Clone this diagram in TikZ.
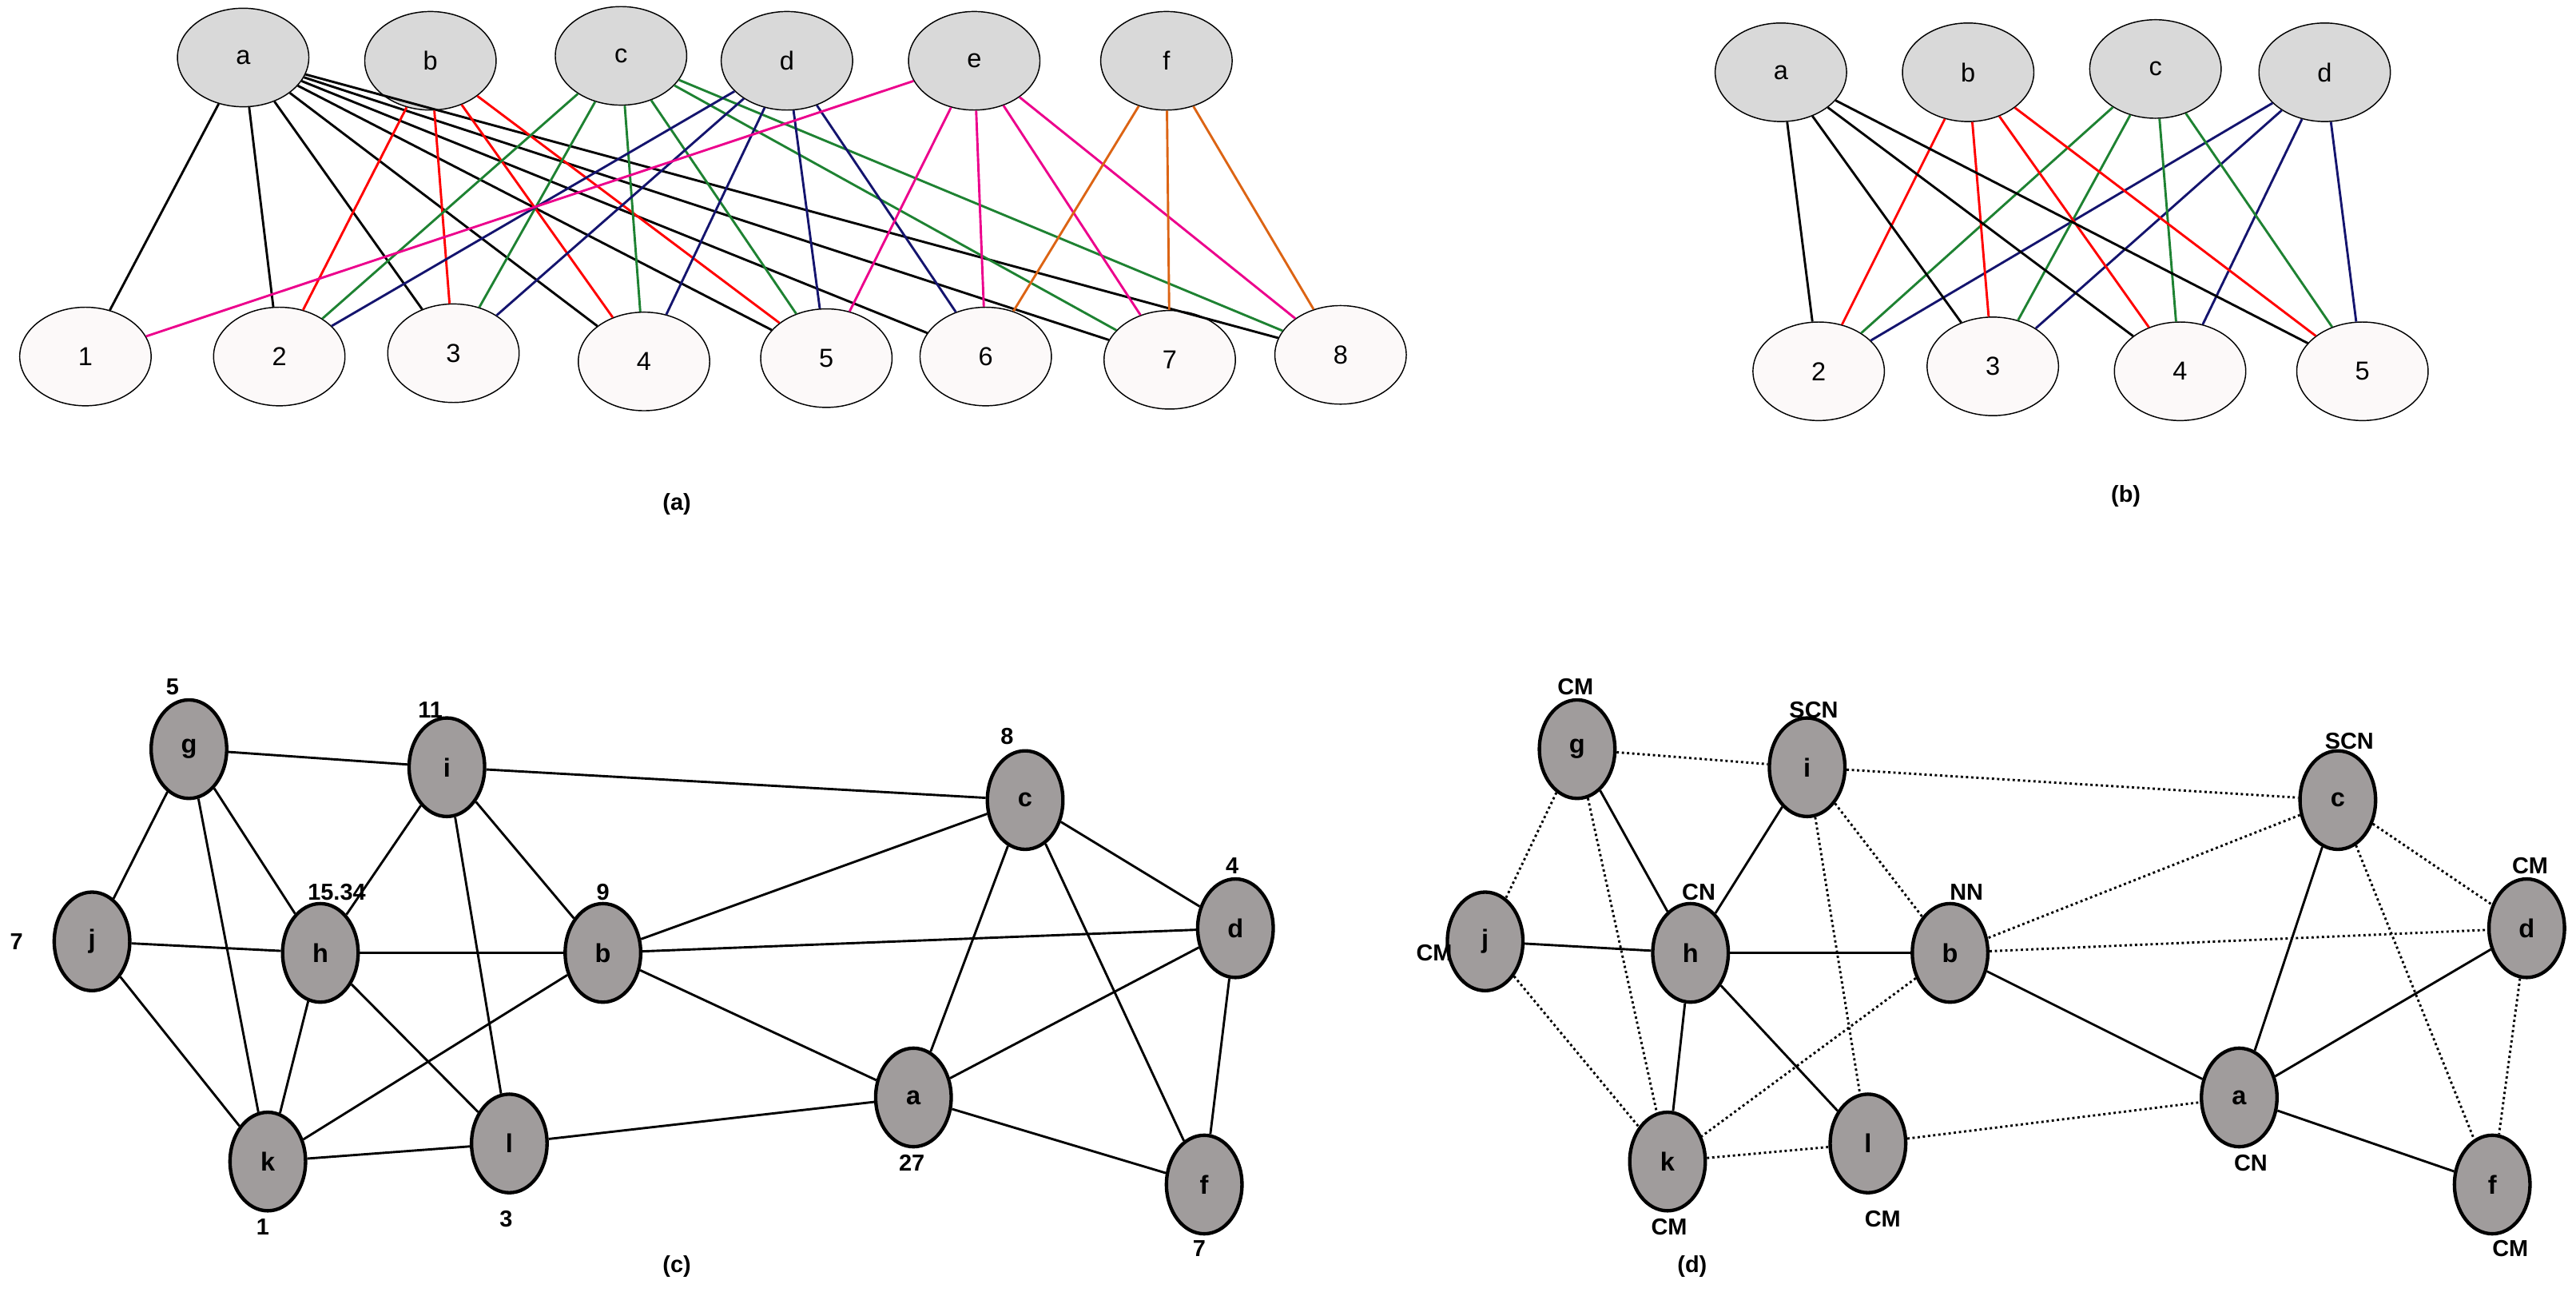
\documentclass[tikz,border=0pt]{standalone}
\usepackage{fontspec}
\setmainfont{Liberation Sans}
\usetikzlibrary{shapes.geometric}
\definecolor{topgray}{RGB}{217,217,217}
\definecolor{botwhite}{RGB}{252,249,249}
\definecolor{nodegray}{RGB}{160,156,156}
\definecolor{navyline}{RGB}{20,20,110}
\definecolor{greenline}{RGB}{30,130,50}
\definecolor{orangeline}{RGB}{220,100,20}
\tikzset{
  top/.style={ellipse, draw, thin, fill=topgray, minimum width=1.6cm, minimum height=1.2cm, font=\fontsize{9}{9}\selectfont},
  bot/.style={ellipse, draw, thin, fill=botwhite, minimum width=1.6cm, minimum height=1.2cm, font=\fontsize{9}{9}\selectfont},
  vtx/.style={ellipse, draw, line width=1.2pt, fill=nodegray, minimum width=0.92cm, minimum height=1.2cm, font=\bfseries\fontsize{9}{9}\selectfont},
  tag/.style={font=\bfseries\fontsize{8}{8}\selectfont},
  sublabel/.style={font=\bfseries\fontsize{8}{8}\selectfont},
  weak edge/.style={densely dotted, thick},
  solid edge/.style={thick}
}
\begin{document}
\begin{tikzpicture}[x=0.02cm, y=-0.02cm]
  \useasboundingbox (0,0) rectangle (1568,791);

  % (a)
  \foreach \n/\x/\y in {a/148/35, b/262/37, c/378/34, d/479/37, e/593/37, f/710/37}
    \node [top] (A\n) at (\x,\y) {\n};
  \foreach \n/\x/\y in {1/52/217, 2/170/217, 3/276/215, 4/392/220, 5/503/218, 6/600/217, 7/712/219, 8/816/216}
    \node [bot] (A\n) at (\x,\y) {\n};
  \foreach \m in {1,...,8} \draw [thick] (Aa) -- (A\m);
  \foreach \m in {2,3,4,5} \draw [red, thick] (Ab) -- (A\m);
  \foreach \m in {2,3,4,5,7,8} \draw [greenline, thick] (Ac) -- (A\m);
  \foreach \m in {2,3,4,5,6} \draw [navyline, thick] (Ad) -- (A\m);
  \foreach \m in {1,5,6,7,8} \draw [magenta, thick] (Ae) -- (A\m);
  \foreach \m in {6,7,8} \draw [orangeline, thick] (Af) -- (A\m);
  \node [sublabel] (capa) at (412,307) {(a)};

  % (b)
  \foreach \n/\x/\y in {a/1084/44, b/1198/44, c/1312/42, d/1415/44}
    \node [top] (B\n) at (\x,\y) {\n};
  \foreach \n/\x/\y in {2/1107/226, 3/1213/223, 4/1327/226, 5/1438/226}
    \node [bot] (B\n) at (\x,\y) {\n};
  \foreach \m in {2,3,4,5} {
    \draw [thick] (Ba) -- (B\m);
    \draw [red, thick] (Bb) -- (B\m);
    \draw [greenline, thick] (Bc) -- (B\m);
    \draw [navyline, thick] (Bd) -- (B\m);
  }
  \node [sublabel] (capb) at (1294,302) {(b)};

  % (c)
  \foreach \n/\x/\y in {g/115/456, i/272/467, c/624/487, d/752/565, j/56/573, h/195/580, b/367/580, a/556/668, k/163/707, l/310/696, f/733/721}
    \node [vtx] (C\n) at (\x,\y) {\n};
  \foreach \u/\v in {g/i, g/j, g/h, g/k, i/c, i/h, i/b, i/l, c/b, c/d, c/a, c/f, j/h, j/k, h/b, h/k, h/l, b/d, b/a, b/k, a/d, a/l, a/f, k/l, d/f}
    \draw [solid edge] (C\u) -- (C\v);
  \foreach \t/\x/\y [count=\i] in {5/105/418, 11/262/432, 8/613/448, 4/750/527, 7/10/573, 15.34/205/543, 9/367/543, 27/555/708, 1/160/747, 3/308/742, 7/730/760}
    \node [tag] (ct\i) at (\x,\y) {\t};
  \node [sublabel] (capc) at (412,771) {(c)};

  % (d)
  \foreach \n/\x/\y in {g/960/456, i/1100/467, c/1423/487, d/1538/565, j/904/573, h/1029/580, b/1187/580, a/1363/668, k/1015/707, l/1137/696, f/1517/721}
    \node [vtx] (D\n) at (\x,\y) {\n};
  \foreach \u/\v in {g/h, i/h, h/j, h/b, h/k, h/l, b/a, c/a, a/d, a/f}
    \draw [solid edge] (D\u) -- (D\v);
  \foreach \u/\v in {g/i, i/c, i/b, i/l, g/j, g/k, c/b, c/d, c/f, b/d, b/k, j/k, k/l, l/a, d/f}
    \draw [weak edge] (D\u) -- (D\v);
  \foreach \t/\x/\y [count=\i] in {CM/959/418, SCN/1104/432, SCN/1430/451, CM/1540/527, CM/873/580, CN/1034/543, NN/1197/543, CN/1370/708, CM/1016/747, CM/1146/742, CM/1528/760}
    \node [tag] (dt\i) at (\x,\y) {\t};
  \node [sublabel] (capd) at (1030,771) {(d)};
\end{tikzpicture}
\end{document}
